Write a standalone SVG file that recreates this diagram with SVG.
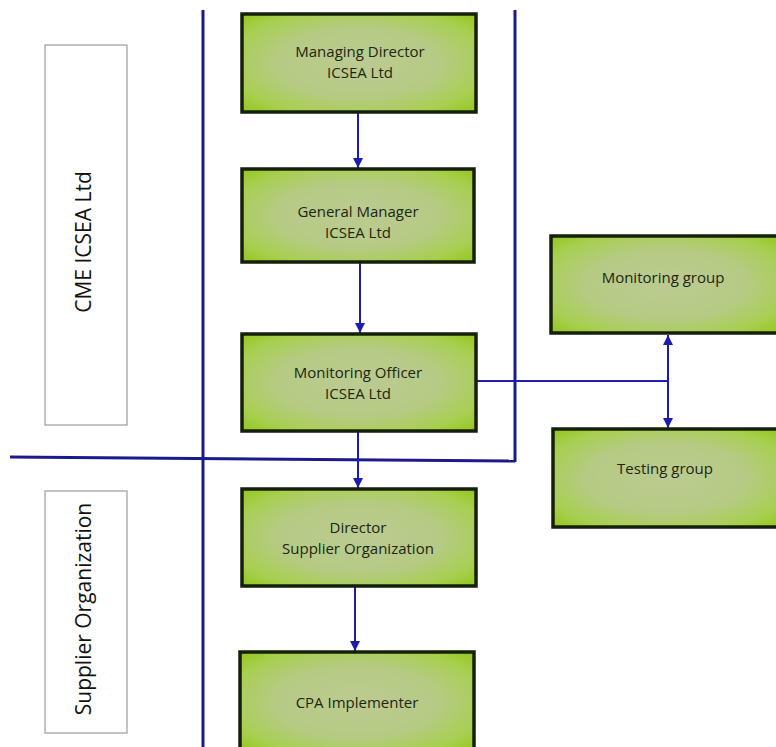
<svg xmlns="http://www.w3.org/2000/svg" width="776" height="747" viewBox="0 0 776 747">
<defs>
<radialGradient id="g" cx="0.5" cy="0.5" r="0.7">
<stop offset="0" stop-color="#bccb92"/>
<stop offset="0.5" stop-color="#b6ca84"/>
<stop offset="0.8" stop-color="#a8cf50"/>
<stop offset="1" stop-color="#94c61e"/>
</radialGradient>
<marker id="ah" viewBox="0 0 10 10" refX="10" refY="5" markerWidth="10" markerHeight="10" markerUnits="userSpaceOnUse" orient="auto-start-reverse">
<path d="M0,0 L10,5 L0,10 z" fill="#1c1cb0"/>
</marker>
<style>
.box{fill:url(#g);stroke:#14200a;stroke-width:3.5}
.t{font-family:"Open Sans","Noto Sans",sans-serif;font-size:15px;fill:#1c2610;text-anchor:middle}
.lab{fill:#fff;stroke:#888;stroke-width:1}
.lt{font-family:"Open Sans","Noto Sans",sans-serif;font-size:21px;fill:#111;text-anchor:middle}
.main{stroke:#1a1a8e;stroke-width:3;fill:none}
.c{stroke:#1c1cb0;stroke-width:2;fill:none}
</style>
</defs>
<rect width="776" height="747" fill="#fff"/>
<g id="lanes">
<line class="main" x1="203" y1="10" x2="203" y2="747"/>
<line class="main" x1="515" y1="10" x2="515" y2="462"/>
<line class="main" x1="10" y1="457" x2="515" y2="461"/>
</g>
<g id="label-cme">
<rect class="lab" x="45" y="45" width="82" height="380"/>
<text class="lt" transform="translate(91,242) rotate(-90)">CME ICSEA Ltd</text>
</g>
<g id="label-supplier">
<rect class="lab" x="45" y="491" width="82" height="242"/>
<text class="lt" transform="translate(91,609) rotate(-90)">Supplier Organization</text>
</g>
<g id="connectors">
<line class="c" x1="358" y1="112" x2="358" y2="168" marker-end="url(#ah)"/>
<line class="c" x1="360" y1="262" x2="360" y2="333" marker-end="url(#ah)"/>
<line class="c" x1="358" y1="431" x2="358" y2="488" marker-end="url(#ah)"/>
<line class="c" x1="355" y1="586" x2="355" y2="651" marker-end="url(#ah)"/>
<line class="c" x1="476" y1="381" x2="668" y2="381"/>
<line class="c" x1="668" y1="335" x2="668" y2="428" marker-start="url(#ah)" marker-end="url(#ah)"/>
</g>
<g id="managing-director">
<rect class="box" x="242" y="14" width="234" height="98"/>
<text class="t" x="360" y="57">Managing Director</text>
<text class="t" x="360" y="78">ICSEA Ltd</text>
</g>
<g id="general-manager">
<rect class="box" x="242" y="169" width="232" height="93"/>
<text class="t" x="358" y="217">General Manager</text>
<text class="t" x="358" y="238">ICSEA Ltd</text>
</g>
<g id="monitoring-officer">
<rect class="box" x="242" y="334" width="234" height="97"/>
<text class="t" x="358" y="378">Monitoring Officer</text>
<text class="t" x="358" y="399">ICSEA Ltd</text>
</g>
<g id="director-supplier">
<rect class="box" x="242" y="489" width="234" height="97"/>
<text class="t" x="358" y="533">Director</text>
<text class="t" x="358" y="554">Supplier Organization</text>
</g>
<g id="cpa-implementer">
<rect class="box" x="240" y="652" width="234" height="100"/>
<text class="t" x="357" y="708">CPA Implementer</text>
</g>
<g id="monitoring-group">
<rect class="box" x="551" y="236" width="230" height="97"/>
<text class="t" x="663" y="283">Monitoring group</text>
</g>
<g id="testing-group">
<rect class="box" x="553" y="429" width="228" height="98"/>
<text class="t" x="665" y="474">Testing group</text>
</g>
</svg>
